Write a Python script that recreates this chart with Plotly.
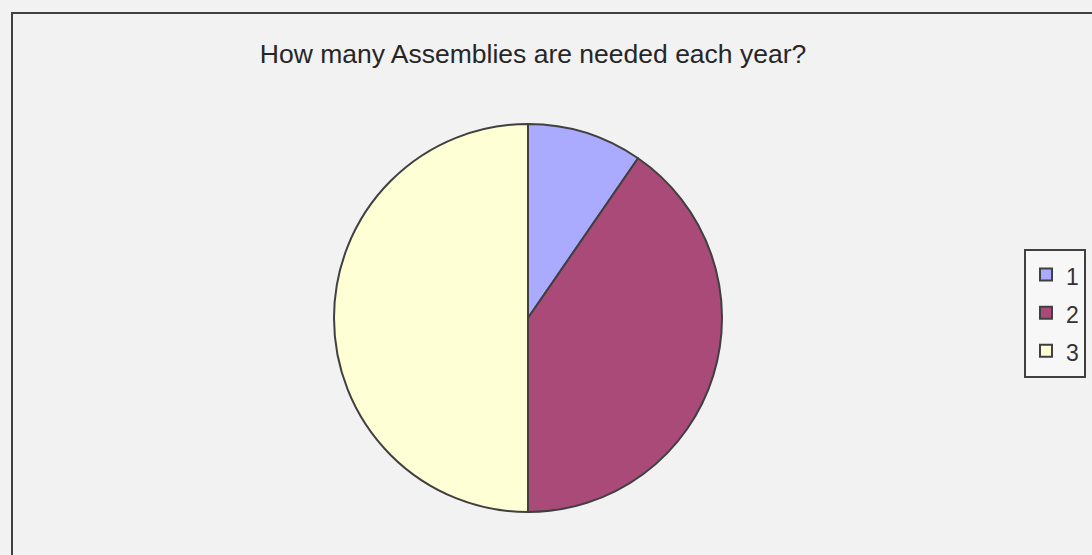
import plotly.graph_objects as go

labels = ["1", "2", "3"]
values = [9.6, 40.4, 50.0]
colors = ["#aaaaff", "#a94a78", "#ffffd6"]
title = "How many Assemblies are needed each year?"

W, H = 1092, 555
cx, cy, r = 528, 318, 194

legend_labels = ['<span style="font-size:23px">%s</span>' % s for s in labels]

fig = go.Figure(go.Pie(
    labels=legend_labels, values=values, sort=False, direction="clockwise", rotation=0,
    marker=dict(colors=colors, line=dict(color="#404040", width=2)),
    textinfo="none", hoverinfo="label+percent",
    domain=dict(x=[(cx - r) / W, (cx + r) / W], y=[(H - cy - r) / H, (H - cy + r) / H]),
))

fig.update_layout(
    width=W, height=H,
    margin=dict(l=0, r=0, t=0, b=0),
    paper_bgcolor="#f2f2f2", plot_bgcolor="#f2f2f2",
    font=dict(family="Liberation Sans, Arial, sans-serif", color="#333333"),
    title=dict(text=title, x=533 / W, xanchor="center", y=1 - 54 / H, yanchor="middle",
               font=dict(size=26.5, color="#262626", family="Liberation Sans, Arial, sans-serif")),
    showlegend=True,
    legend=dict(x=1086 / W, xanchor="right", y=1 - 313 / H, yanchor="middle",
                bgcolor="#f7f7f7", bordercolor="#404040", borderwidth=2,
                font=dict(size=27, color="#333333"), itemwidth=30),
    shapes=[dict(type="rect", xref="paper", yref="paper",
                 x0=12 / W, x1=1.2, y0=-0.2, y1=1 - 13 / H,
                 line=dict(color="#404040", width=2), fillcolor="rgba(0,0,0,0)", layer="below")],
)

fig.write_html("out.html", config={"displayModeBar": False},
               post_script="document.body.style.margin='0';document.body.style.overflow='hidden';")
